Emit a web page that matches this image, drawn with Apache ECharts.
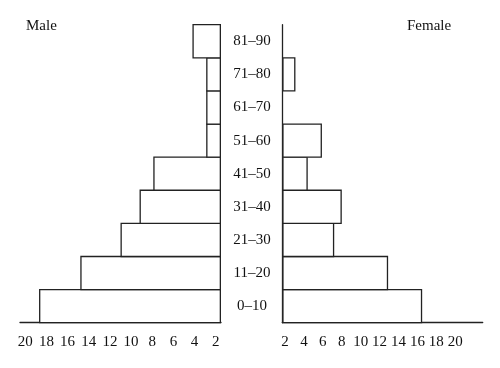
<!DOCTYPE html>
<html>
<head>
<meta charset="utf-8">
<script src="https://cdn.jsdelivr.net/npm/echarts@6/dist/echarts.min.js"></script>
<style>html,body{margin:0;padding:0;background:#fff}#c{width:500px;height:368px}</style>
</head>
<body>
<div id="c"></div>
<script>
var categories = ['0–10', '11–20', '21–30', '31–40', '41–50', '51–60', '61–70', '71–80', '81–90'];
var male = [18.7, 14.8, 11.0, 9.2, 7.9, 2.9, 2.9, 2.9, 4.2];
var female = [16.5, 12.9, 7.2, 8.0, 4.4, 5.9, 0, 3.1, 0];
var tickValues = [2, 4, 6, 8, 10, 12, 14, 16, 18, 20];

var FONT = 'Liberation Serif';
var LINE = '#222';
var BW = 1.3;
var GRID_TOP = 24.7, GRID_BOTTOM = 45.3;
var bandPx = (368 - GRID_TOP - GRID_BOTTOM) / categories.length;
var chart = echarts.init(document.getElementById('c'), null, {renderer: 'canvas'});
var barStyle = {color: '#fff', borderColor: LINE, borderWidth: BW};
function bars(arr) { return arr.map(function (v) { return v > 0 ? v : '-'; }); }

chart.setOption({
  animation: false,
  backgroundColor: '#fff',
  title: [
    {text: 'Male', left: 26, top: 19, padding: 0, textStyle: {fontFamily: FONT, fontSize: 15, fontWeight: 'normal', color: '#111'}},
    {text: 'Female', left: 407, top: 19, padding: 0, textStyle: {fontFamily: FONT, fontSize: 15, fontWeight: 'normal', color: '#111'}}
  ],
  grid: [
    {left: 20, right: 279, top: GRID_TOP, bottom: GRID_BOTTOM, containLabel: false},
    {left: 282.3, right: 17.3, top: GRID_TOP, bottom: GRID_BOTTOM, containLabel: false}
  ],
  xAxis: [
    {type: 'value', gridIndex: 0, inverse: true, min: 1.5, max: 20.5, startValue: 1.5,
     splitLine: {show: false}, axisTick: {show: false},
     axisLine: {show: true, onZero: false, lineStyle: {color: LINE, width: BW}},
     axisLabel: {customValues: tickValues, margin: 11.5, fontFamily: FONT, fontSize: 15, color: '#111'}},
    {type: 'value', gridIndex: 1, min: 1.71, max: 22.9, startValue: 1.71,
     splitLine: {show: false}, axisTick: {show: false},
     axisLine: {show: true, onZero: false, lineStyle: {color: LINE, width: BW}},
     axisLabel: {customValues: tickValues, margin: 11.5, fontFamily: FONT, fontSize: 15, color: '#111'}}
  ],
  yAxis: [
    {type: 'category', gridIndex: 0, data: categories, position: 'right',
     axisTick: {show: false},
     axisLine: {show: false},
     axisLabel: {show: true, align: 'center', margin: 31, fontFamily: FONT, fontSize: 15, color: '#111'}},
    {type: 'category', gridIndex: 1, data: categories, position: 'left',
     axisTick: {show: false},
     axisLine: {show: true, onZero: false, lineStyle: {color: LINE, width: BW}},
     axisLabel: {show: false}}
  ],
  series: [
    {type: 'bar', xAxisIndex: 0, yAxisIndex: 0, data: bars(male), barWidth: bandPx + BW, itemStyle: barStyle, clip: false},
    {type: 'bar', xAxisIndex: 1, yAxisIndex: 1, data: bars(female), barWidth: bandPx + BW, itemStyle: barStyle, clip: false}
  ]
});
</script>
</body>
</html>
